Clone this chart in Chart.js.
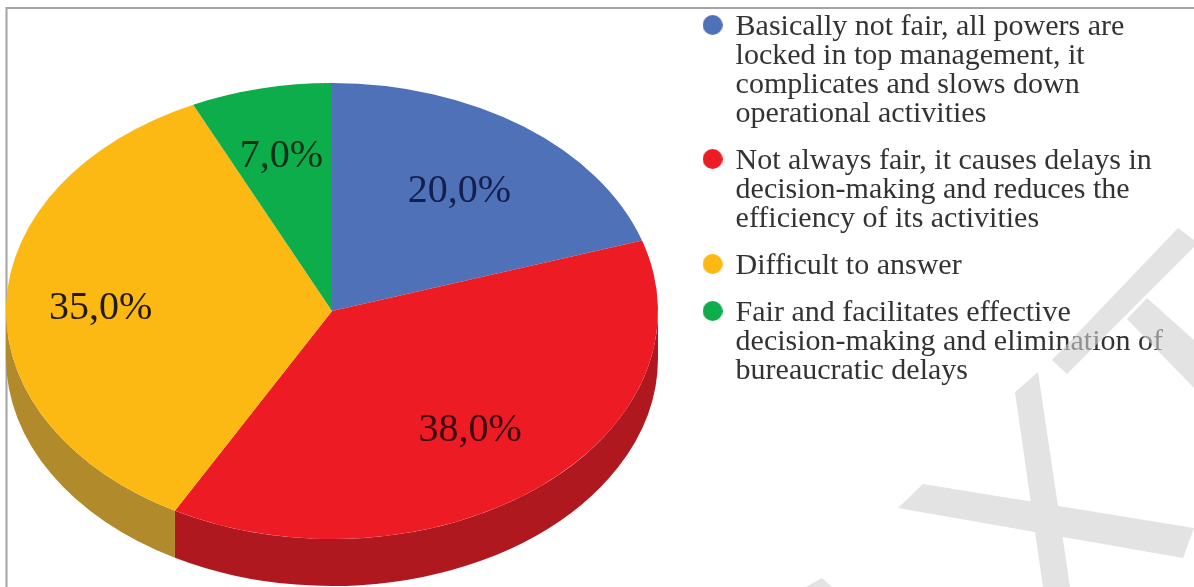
<!DOCTYPE html>
<html>
<head>
<meta charset="utf-8">
<title>Pie chart</title>
<script src="https://cdn.jsdelivr.net/npm/chart.js@4.4.9/dist/chart.umd.js"></script>
<style>
    html, body { margin: 0; background: #fff; overflow: hidden; }
    #wrap { position: relative; width: 1194px; height: 587px; filter: blur(0.6px); }
    #chart { position: absolute; left: 0; top: 0; }
    #mark { position: absolute; left: 0; top: 0; }
</style>
</head>
<body>
<div id="wrap">
    <canvas id="chart" width="1194" height="587"></canvas>
    <!-- watermark sits over the text, as in the scan -->
    <svg id="mark" width="1194" height="587">
        <g fill="rgb(208,208,208)" opacity="0.6">
            <polygon points="1178,228 1194,240 1194,247 1067,374 1052,360"/>
            <polygon points="1147,298 1194,340 1194,388 1127,319"/>
            <polygon points="1038,372 1070,587 1043,587 1015,392"/>
            <polygon points="923,484 1194,528 1183,558 898,508"/>
            <polygon points="822,578 832,587 806,587"/>
        </g>
    </svg>
</div>
<script>
const categories = [
    ['Basically not fair, all powers are', 'locked in top management, it', 'complicates and slows down', 'operational activities'],
    ['Not always fair, it causes delays in', 'decision-making and reduces the', 'efficiency of its activities'],
    ['Difficult to answer'],
    ['Fair and facilitates effective', 'decision-making and elimination of', 'bureaucratic delays']
];
const values = [20, 38, 35, 7];
const colors = ['#4f71b8', '#ed1c24', '#fdb913', '#0ead4b'];
const wallColors = ['#3a5590', '#b01820', '#b18a2c', '#0a8038'];
const labelColors = ['#141f4e', '#3a0a10', '#221a06', '#06301a'];
const labelDistance = [0.665, 0.665, 0.71, 0.71];

// the flat pie gets squeezed into this ellipse
const pie = { x: 332, y: 311, rx: 326, ry: 228, depth: 47 };

const flatten = (ctx, arc) => {
    ctx.translate(pie.x, pie.y);
    ctx.scale(pie.rx / arc.outerRadius, pie.ry / arc.outerRadius);
    ctx.translate(-arc.x, -arc.y);
};

// legend dots sit a little above the middle of the first text line
const makeDot = (color) => {
    const dot = document.createElement('canvas');
    dot.width = 20;
    dot.height = 24;
    const g = dot.getContext('2d');
    g.fillStyle = color;
    g.beginPath();
    g.arc(10, 10, 10, 0, Math.PI * 2);
    g.fill();
    return dot;
};
const dots = colors.map(makeDot);

const pie3d = {
    id: 'pie3d',
    beforeDraw(chart) {
        const ctx = chart.ctx;
        ctx.save();
        ctx.fillStyle = '#fff';
        ctx.fillRect(0, 0, chart.width, chart.height);
        ctx.strokeStyle = '#a3a3a3';
        ctx.lineWidth = 2;
        ctx.beginPath();
        ctx.moveTo(6.5, 587);
        ctx.lineTo(6.5, 8);
        ctx.lineTo(1194, 8);
        ctx.stroke();
        ctx.restore();
    },
    beforeDatasetsDraw(chart) {
        const ctx = chart.ctx;
        const arcs = chart.getDatasetMeta(0).data;
        // side wall, only the front half of the rim shows
        arcs.forEach((el, i) => {
            const a = el.getProps(['startAngle', 'endAngle']);
            const from = Math.max(a.startAngle, 0);
            const to = Math.min(a.endAngle, Math.PI);
            if (to <= from) return;
            ctx.fillStyle = wallColors[i];
            ctx.beginPath();
            ctx.ellipse(pie.x, pie.y, pie.rx, pie.ry, 0, from, to);
            ctx.ellipse(pie.x, pie.y + pie.depth, pie.rx, pie.ry, 0, to, from, true);
            ctx.closePath();
            ctx.fill();
        });
        ctx.save();
        flatten(ctx, arcs[0].getProps(['x', 'y', 'outerRadius']));
    },
    afterDatasetsDraw(chart) {
        const ctx = chart.ctx;
        ctx.restore();
        ctx.save();
        ctx.font = '40px "Liberation Serif"';
        ctx.textAlign = 'center';
        ctx.textBaseline = 'middle';
        chart.getDatasetMeta(0).data.forEach((el, i) => {
            const a = el.getProps(['startAngle', 'endAngle']);
            const mid = (a.startAngle + a.endAngle) / 2;
            ctx.fillStyle = labelColors[i];
            ctx.fillText(
                values[i].toFixed(1).replace('.', ',') + '%',
                pie.x + Math.cos(mid) * pie.rx * labelDistance[i],
                pie.y + 3 + Math.sin(mid) * pie.ry * labelDistance[i]
            );
        });
        ctx.restore();
    }
};

new Chart(document.getElementById('chart'), {
    type: 'pie',
    data: {
        labels: categories,
        datasets: [{
            data: values,
            backgroundColor: colors,
            borderWidth: 0,
            clip: false
        }]
    },
    options: {
        responsive: false,
        animation: false,
        layout: { padding: { top: -6, right: 21, bottom: 0, left: 0 } },
        plugins: {
            tooltip: { enabled: false },
            legend: {
                position: 'right',
                align: 'start',
                labels: {
                    usePointStyle: true,
                    boxWidth: 16,
                    boxHeight: 14,
                    padding: 18,
                    color: '#333',
                    font: { family: '"Liberation Serif"', size: 30, lineHeight: '29px' },
                    generateLabels(chart) {
                        return Chart.overrides.pie.plugins.legend.labels.generateLabels(chart)
                            .map((item, i) => ({ ...item, pointStyle: dots[i] }));
                    }
                }
            }
        }
    },
    plugins: [pie3d]
});
</script>
</body>
</html>
